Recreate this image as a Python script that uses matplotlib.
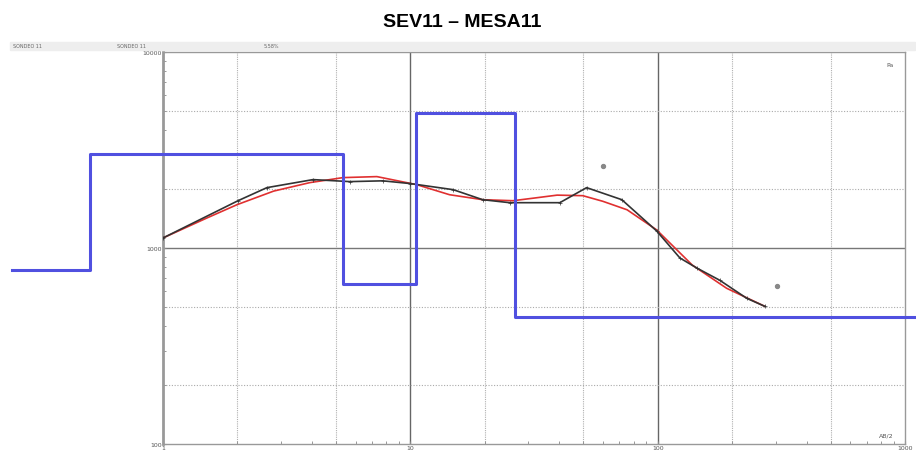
import numpy as np
import matplotlib.pyplot as plt
from matplotlib.ticker import LogLocator, NullFormatter, FixedLocator

# field curve (AB/2 in m, apparent resistivity)
ab2_field = [1, 2.01, 2.63, 4.04, 5.7, 7.74, 10, 14.9, 19.6, 25.2, 40.2, 51.6, 71.6, 99, 123, 144, 178, 229, 271]
rho_field = [1125, 1742, 2031, 2232, 2180, 2200, 2130, 1983, 1763, 1702, 1702, 2031, 1763, 1222, 889, 790, 685, 554, 504]

# calculated curve
ab2_calc = [1, 1.5, 1.99, 2.8, 3.92, 5.34, 7.32, 10.6, 14.4, 19.6, 26.0, 32, 39.2, 49.8, 60, 75.2, 99, 138, 190, 271]
rho_calc = [1125, 1420, 1662, 1950, 2154, 2285, 2312, 2104, 1869, 1763, 1742, 1800, 1860, 1848, 1730, 1566, 1237, 818, 623, 504]

# discarded points
ab2_out = [60, 303]
rho_out = [2633, 639]

# layered model
depths = [0.245, 0.507, 5.34, 10.5, 26.4, 1100]
rho_layers = [771, 3000, 653, 4860, 443]

fig = plt.figure(figsize=(9.16, 4.56), dpi=100)
ax = fig.add_axes([0.178, 0.024, 0.81, 0.86])
ax.set_xscale('log')
ax.set_yscale('log')
ax.set_xlim(1, 1000)
ax.set_ylim(100, 10000)

# grid: solid at decades, dotted at 2 and 5
for v in [10, 100]:
    ax.axvline(v, color='#666666', lw=1.0, zorder=1)
for d in [1, 10, 100]:
    for m in [2, 5]:
        ax.axvline(d * m, color='#b0b0b0', lw=0.8, ls=(0, (1, 1)), zorder=1)
ax.axhline(1000, color='#777777', lw=1.0, zorder=1)
for d in [100, 1000]:
    for m in [2, 5]:
        ax.axhline(d * m, color='#aaaaaa', lw=0.8, ls=(0, (1, 1.5)), zorder=1)

ax.plot(ab2_calc, rho_calc, color='#e03030', lw=1.2, zorder=3)
ax.plot(ab2_field, rho_field, color='#333333', lw=1.2, marker='+', ms=2.5, mew=0.5, zorder=4)
ax.scatter(ab2_out, rho_out, s=8, color='#888888', marker='o', zorder=4)

x_step = depths
y_step = rho_layers + [rho_layers[-1]]
ax.step(x_step, y_step, where='post', color='#5050e0', lw=2.2, clip_on=False, zorder=5)

for s in ax.spines.values():
    s.set_color('#999999')
    s.set_linewidth(1.0)
ax.spines['left'].set_linewidth(2)

ax.xaxis.set_major_locator(FixedLocator([1, 10, 100, 1000]))
ax.yaxis.set_major_locator(FixedLocator([100, 1000, 10000]))
ax.xaxis.set_minor_locator(LogLocator(base=10, subs=np.arange(2, 10)))
ax.yaxis.set_minor_locator(LogLocator(base=10, subs=np.arange(2, 10)))
ax.xaxis.set_minor_formatter(NullFormatter())
ax.yaxis.set_minor_formatter(NullFormatter())
ax.set_xticklabels(['1', '10', '100', '1000'])
ax.set_yticklabels(['100', '1000', '10000'])
ax.tick_params(which='both', direction='in', length=2, color='#888888', labelsize=4.5,
               labelcolor='#555555', pad=1)

ax.text(0.985, 0.02, 'AB/2', transform=ax.transAxes, fontsize=4.5, color='#555555', ha='right')
ax.text(0.985, 0.975, 'Pa', transform=ax.transAxes, fontsize=4.5, color='#555555', ha='right', va='top')

# header strip
fig.patches.append(plt.Rectangle((0.011, 0.888), 0.988, 0.018, transform=fig.transFigure,
                                 color='#eeeeee', zorder=0))
fig.text(0.014, 0.897, 'SONDEO 11', fontsize=3.5, color='#666666', va='center')
fig.text(0.128, 0.897, 'SONDEO 11', fontsize=3.5, color='#666666', va='center')
fig.text(0.288, 0.897, '5.58%', fontsize=3.5, color='#666666', va='center')

fig.text(0.505, 0.950, 'SEV11 – MESA11', fontsize=14, fontweight='bold', ha='center', va='center',
         family=['Liberation Sans', 'DejaVu Sans'])

plt.savefig('out.png', dpi=100)
